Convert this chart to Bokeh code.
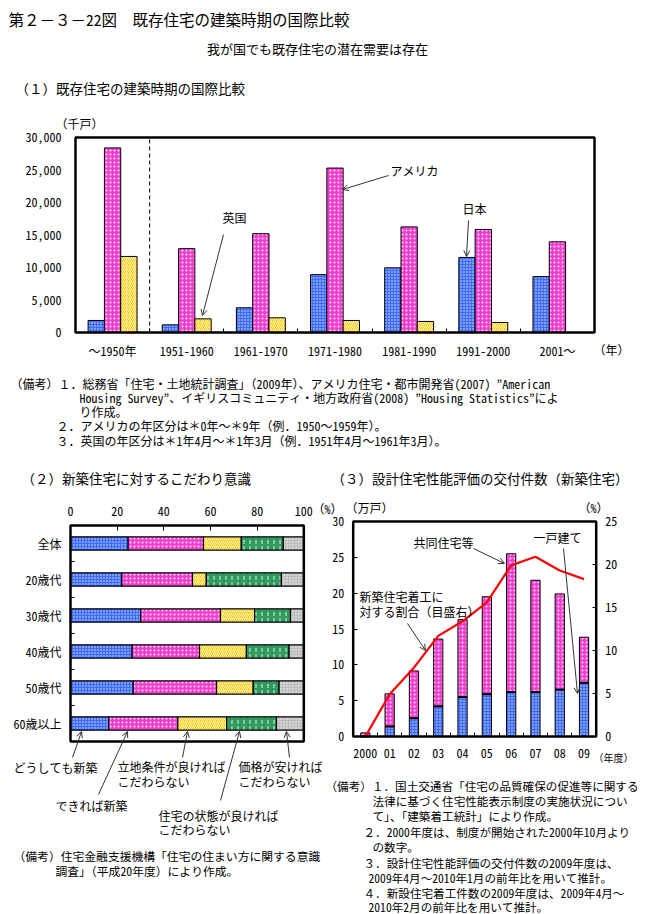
import numpy as np
from bokeh.plotting import figure
from bokeh.models import (Range1d, LinearAxis, FixedTicker, ColumnDataSource, Arrow,
                          OpenHead, BoxAnnotation, NumeralTickFormatter)
from bokeh.transform import dodge, stack
from bokeh.core.properties import value
from bokeh.embed import file_html
from bokeh.resources import INLINE

FONT = "Noto Sans Mono CJK JP, Noto Sans CJK JP"

# ---------------- data ----------------
# (1) housing stock by construction period (thousand dwellings)
periods = ["～1950年", "1951-1960", "1961-1970", "1971-1980", "1981-1990", "1991-2000", "2001～"]
japan_stock = [1850, 1180, 3800, 8900, 9950, 11550, 8600]
usa_stock = [28400, 12900, 15200, 25300, 16250, 15850, 13950]
uk_stock = [11700, 2100, 2260, 1850, 1700, 1540, float("nan")]
stock_ticks = [0, 5000, 10000, 15000, 20000, 25000, 30000]

# (2) attachment to new housing (%)
age_groups = ["全体", "20歳代", "30歳代", "40歳代", "50歳代", "60歳以上"]
must_new = [24.7, 22.0, 30.1, 26.4, 26.9, 16.4]
prefer_new = [32.3, 30.3, 34.2, 28.9, 35.7, 29.6]
location_ok = [16.2, 5.9, 14.6, 20.1, 15.7, 20.9]
condition_ok = [18.0, 32.2, 15.4, 18.3, 11.1, 21.4]
price_ok = [8.8, 9.6, 5.7, 6.3, 10.6, 11.7]
pct_ticks = [0, 20, 40, 60, 80, 100]

# (3) design housing performance evaluations (10 thousand dwellings) and share (%)
fiscal_years = ["2000", "01", "02", "03", "04", "05", "06", "07", "08", "09"]
detached = [0.0, 1.4, 2.55, 4.2, 5.5, 5.9, 6.2, 6.2, 6.55, 7.5]
collective = [0.5, 4.55, 6.6, 9.4, 10.8, 13.6, 19.3, 15.6, 13.35, 6.35]
share_pct = [0.0, 4.9, 8.0, 11.7, 13.4, 15.6, 19.9, 20.9, 19.3, 18.3]
count_ticks = [0, 5, 10, 15, 20, 25, 30]
share_ticks = [0, 5, 10, 15, 20, 25]

# ---------------- colours ----------------
BLUE = "#3f6cf6"
MAGENTA = "#f23fd0"
YELLOW = "#ffcc00"
GREEN = "#2e9a5e"
GRAY = "#bdbdbd"

# ---------------- page figure ----------------
# the figure sits at the page's top-left corner; data units of the default
# ranges are the picture's pixels
PX0, PY0 = 0, 0
W, H = 650, 913
XL, XR = PX0, PX0 + W
YB, YT = PY0 + H, PY0

p = figure(width=W, height=H, x_range=Range1d(XL, XR), y_range=Range1d(YB, YT),
           x_axis_type=None, y_axis_type=None, output_backend="svg",
           toolbar_location=None, tools="", min_border=0, outline_line_color=None)
p.background_fill_color = "white"
p.border_fill_color = "white"


def frame_range(a_px, b_px, a_val, b_val, lo_px, hi_px):
    k = (b_val - a_val) / (b_px - a_px)
    return Range1d(start=a_val + (lo_px - a_px) * k, end=a_val + (hi_px - a_px) * k)


def txt(x, y, s, size="12px", align="left"):
    p.text(x=[x], y=[y], text=[s], text_font=value(FONT), text_font_size=size,
           text_align=align, text_baseline="middle", text_color="black")


def arrow(x0, y0, x1, y1):
    p.add_layout(Arrow(end=OpenHead(size=6, line_width=1, line_color="#333333"),
                       x_start=x0, y_start=y0, x_end=x1, y_end=y1,
                       line_width=1, line_color="#333333"))


def box(l, r, t, b, w=2.5):
    p.add_layout(BoxAnnotation(left=l, right=r, top=t, bottom=b, fill_color=None,
                               fill_alpha=0, line_color="black", line_width=w, line_alpha=1))


def style_axis(ax, size="12px", standoff=6, tick_in=0, minor_in=0):
    ax.axis_line_color = None
    ax.major_tick_in = tick_in
    ax.major_tick_out = 0
    ax.major_tick_line_color = "black" if tick_in else None
    ax.major_tick_line_width = 1
    ax.minor_tick_in = minor_in
    ax.minor_tick_out = 0
    ax.minor_tick_line_color = "black" if minor_in else None
    ax.major_label_text_font = FONT
    ax.major_label_text_font_size = size
    ax.major_label_text_color = "black"
    ax.major_label_standoff = standoff


HATCH = dict(hatch_color="white", hatch_alpha=0.85)

# ---------------- headings ----------------
txt(8, 18, "第２－３－22図　既存住宅の建築時期の国際比較", "15.5px")
txt(317, 48, "我が国でも既存住宅の潜在需要は存在", "13px", "center")
txt(15, 87, "（１）既存住宅の建築時期の国際比較", "13.5px")

# ---------------- chart (1) ----------------
C1 = dict(l=75, r=594, t=137, b=332)
p.extra_x_ranges["c1x"] = frame_range(C1["l"], C1["r"], -0.5, len(periods) - 0.5, XL, XR)
p.extra_y_ranges["c1y"] = frame_range(C1["b"], C1["t"], 0, stock_ticks[-1], YB, YT)

src1 = ColumnDataSource(dict(x=np.arange(len(periods)), japan=japan_stock,
                             usa=usa_stock, uk=uk_stock))
for col, off, fill, hatch, sc in [("japan", -0.22, BLUE, "dot", 3),
                                  ("usa", 0.0, MAGENTA, "dot", 4),
                                  ("uk", 0.22, YELLOW, "right_diagonal_line", 4)]:
    p.vbar(x=dodge("x", off), top=col, bottom=0, width=0.22, source=src1,
           x_range_name="c1x", y_range_name="c1y", fill_color=fill,
           line_color="black", line_width=1, hatch_pattern=hatch,
           hatch_scale=sc, hatch_weight=1, **HATCH)

p.segment(x0=[0.5], y0=[0], x1=[0.5], y1=[stock_ticks[-1]], x_range_name="c1x",
          y_range_name="c1y", line_color="black", line_width=1, line_dash="4 3")

ay1 = LinearAxis(y_range_name="c1y", fixed_location=C1["l"], bounds=(0, stock_ticks[-1]),
                 ticker=FixedTicker(ticks=stock_ticks),
                 formatter=NumeralTickFormatter(format="0,0"))
style_axis(ay1, standoff=14)
p.add_layout(ay1, "left")

ax1 = LinearAxis(x_range_name="c1x", fixed_location=C1["b"], bounds=(-0.5, len(periods) - 0.5),
                 ticker=FixedTicker(ticks=list(range(len(periods))),
                                    minor_ticks=[i + 0.5 for i in range(len(periods) - 1)]))
ax1.major_label_overrides = {i: s for i, s in enumerate(periods)}
style_axis(ax1, standoff=9, minor_in=4)
p.add_layout(ax1, "below")

box(C1["l"], C1["r"], C1["t"], C1["b"])
txt(55, 123, "（千戸）", "12px")
txt(593, 349, "（年）", "12px")
txt(222, 217, "英国", "12px")
arrow(223, 234, 202, 315)
txt(390, 170, "アメリカ", "12px")
arrow(388, 175, 342, 189)
txt(462, 208, "日本", "12px")
arrow(468, 220, 466, 256)

# notes (1)
NF = "12px"
txt(10, 383, "（備考）１．総務省「住宅・土地統計調査」（2009年）、アメリカ住宅・都市開発省(2007) ”American", NF)
txt(79, 397, "Housing Survey”、イギリスコミュニティ・地方政府省(2008) ”Housing Statistics”によ", NF)
txt(79, 411, "り作成。", NF)
txt(56, 425, "２．アメリカの年区分は＊0年～＊9年（例．1950～1959年）。", NF)
txt(56, 440, "３．英国の年区分は＊1年4月～＊1年3月（例．1951年4月～1961年3月）。", NF)

# ---------------- chart (2) ----------------
txt(21, 477, "（２）新築住宅に対するこだわり意識", "13.5px")
C2 = dict(l=70, r=303.3, t=525, b=741)
p.extra_x_ranges["c2x"] = frame_range(C2["l"], C2["r"], 0, 100, XL, XR)
p.extra_y_ranges["c2y"] = frame_range(C2["t"], C2["b"], -0.5, len(age_groups) - 0.5, YB, YT)

src2 = ColumnDataSource(dict(y=np.arange(len(age_groups)), must=must_new, prefer=prefer_new,
                             loc=location_ok, cond=condition_ok, price=price_ok))
cols2 = ["must", "prefer", "loc", "cond", "price"]
styles2 = [(BLUE, "dot", 3), (MAGENTA, "dot", 4), (YELLOW, "right_diagonal_line", 4),
           (GREEN, "vertical_dash", 6), (GRAY, "dot", 3)]
for i, (c, (fill, hatch, sc)) in enumerate(zip(cols2, styles2)):
    left = stack(*cols2[:i]) if i > 0 else 0
    p.hbar(y="y", left=left, right=stack(*cols2[:i + 1]), height=0.37, source=src2,
           x_range_name="c2x", y_range_name="c2y", fill_color=fill, line_color="black",
           line_width=1.2, hatch_pattern=hatch, hatch_scale=sc, hatch_weight=1, **HATCH)

ax2 = LinearAxis(x_range_name="c2x", fixed_location=C2["t"], bounds=(0, 100),
                 ticker=FixedTicker(ticks=pct_ticks))
style_axis(ax2, size="12px", standoff=10, tick_in=5)
p.add_layout(ax2, "above")

ay2 = LinearAxis(y_range_name="c2y", fixed_location=C2["l"], bounds=(-0.5, len(age_groups) - 0.5),
                 ticker=FixedTicker(ticks=list(range(len(age_groups))),
                                    minor_ticks=[i + 0.5 for i in range(len(age_groups) - 1)]))
ay2.major_label_overrides = {i: s for i, s in enumerate(age_groups)}
style_axis(ay2, size="12px", standoff=9, minor_in=4)
p.add_layout(ay2, "left")
box(C2["l"], C2["r"], C2["t"], C2["b"])
txt(312, 508, "（%）", "12px")

txt(13, 767, "どうしても新築", "12px")
arrow(72, 757, 81, 731)
txt(55, 805, "できれば新築", "12px")
arrow(98, 794, 127, 731)
txt(117, 766, "立地条件が良ければ", "12px")
txt(117, 781, "こだわらない", "12px")
arrow(182, 757, 187, 731)
txt(158, 815, "住宅の状態が良ければ", "12px")
txt(158, 829, "こだわらない", "12px")
arrow(220, 800, 239, 731)
txt(238, 766, "価格が安ければ", "12px")
txt(238, 781, "こだわらない", "12px")
arrow(289, 757, 286, 731)

txt(13, 855, "（備考）住宅金融支援機構「住宅の住まい方に関する意識", "11.8px")
txt(55, 870, "調査」（平成20年度）により作成。", "11.8px")

# ---------------- chart (3) ----------------
txt(331, 477, "（３）設計住宅性能評価の交付件数（新築住宅）", "13.5px")
C3 = dict(l=352.7, r=595.7, t=521, b=736)
p.extra_x_ranges["c3x"] = frame_range(C3["l"], C3["r"], -0.5, len(fiscal_years) - 0.5, XL, XR)
p.extra_y_ranges["c3y"] = frame_range(C3["b"], C3["t"], 0, count_ticks[-1], YB, YT)
p.extra_y_ranges["c3r"] = frame_range(C3["b"], C3["t"], 0, share_ticks[-1], YB, YT)

src3 = ColumnDataSource(dict(x=np.arange(len(fiscal_years)), detached=detached,
                             collective=collective, share=share_pct))
p.vbar(x="x", bottom=0, top="detached", width=0.38, source=src3, x_range_name="c3x",
       y_range_name="c3y", fill_color=BLUE, line_color="black", line_width=1,
       hatch_pattern="dot", hatch_scale=3, hatch_weight=1, **HATCH)
p.vbar(x="x", bottom=stack("detached"), top=stack("detached", "collective"), width=0.38,
       source=src3, x_range_name="c3x", y_range_name="c3y", fill_color=MAGENTA,
       line_color="black", line_width=1, hatch_pattern="dot", hatch_scale=4,
       hatch_weight=1, **HATCH)
p.segment(x0=dodge("x", -0.19), x1=dodge("x", 0.19), y0="detached", y1="detached",
          source=src3, x_range_name="c3x", y_range_name="c3y", line_color="black",
          line_width=2)
p.line(x="x", y="share", source=src3, x_range_name="c3x", y_range_name="c3r",
       line_color="#ff0000", line_width=2.2)

ay3 = LinearAxis(y_range_name="c3y", fixed_location=C3["l"], bounds=(0, count_ticks[-1]),
                 ticker=FixedTicker(ticks=count_ticks))
style_axis(ay3, size="12px", standoff=9, tick_in=4)
p.add_layout(ay3, "left")
ar3 = LinearAxis(y_range_name="c3r", fixed_location=C3["r"], bounds=(0, share_ticks[-1]),
                 ticker=FixedTicker(ticks=share_ticks))
style_axis(ar3, size="12px", standoff=9, tick_in=4)
p.add_layout(ar3, "right")
ax3 = LinearAxis(x_range_name="c3x", fixed_location=C3["b"], bounds=(-0.5, len(fiscal_years) - 0.5),
                 ticker=FixedTicker(ticks=list(range(len(fiscal_years))),
                                    minor_ticks=[i + 0.5 for i in range(len(fiscal_years) - 1)]))
ax3.major_label_overrides = {i: s for i, s in enumerate(fiscal_years)}
style_axis(ax3, size="12px", standoff=12, minor_in=4)
p.add_layout(ax3, "below")
box(C3["l"], C3["r"], C3["t"], C3["b"])

txt(345, 507, "（万戸）", "12px")
txt(578, 507, "（%）", "12px")
txt(593, 757, "（年度）", "10px")
txt(413, 542, "共同住宅等", "12px")
arrow(473, 548, 504, 563)
txt(533, 537, "一戸建て", "12px")
arrow(563, 548, 577, 693)
txt(359, 596, "新築住宅着工に", "12px")
txt(359, 611, "対する割合（目盛右）", "12px")
arrow(407, 623, 425, 650)

NF3 = "11.6px"
txt(325, 785, "（備考）１．国土交通省「住宅の品質確保の促進等に関する", NF3)
txt(372, 800, "法律に基づく住宅性能表示制度の実施状況につい", NF3)
txt(372, 815, "て」、「建築着工統計」により作成。", NF3)
txt(363, 831, "２．2000年度は、制度が開始された2000年10月より", NF3)
txt(372, 846, "の数字。", NF3)
txt(363, 862, "３．設計住宅性能評価の交付件数の2009年度は、", NF3)
txt(368, 877, "2009年4月～2010年1月の前年比を用いて推計。", NF3)
txt(363, 892, "４．新設住宅着工件数の2009年度は、2009年4月～", NF3)
txt(368, 906, "2010年2月の前年比を用いて推計。", NF3)

open("out.html", "w").write(file_html(p, INLINE))
